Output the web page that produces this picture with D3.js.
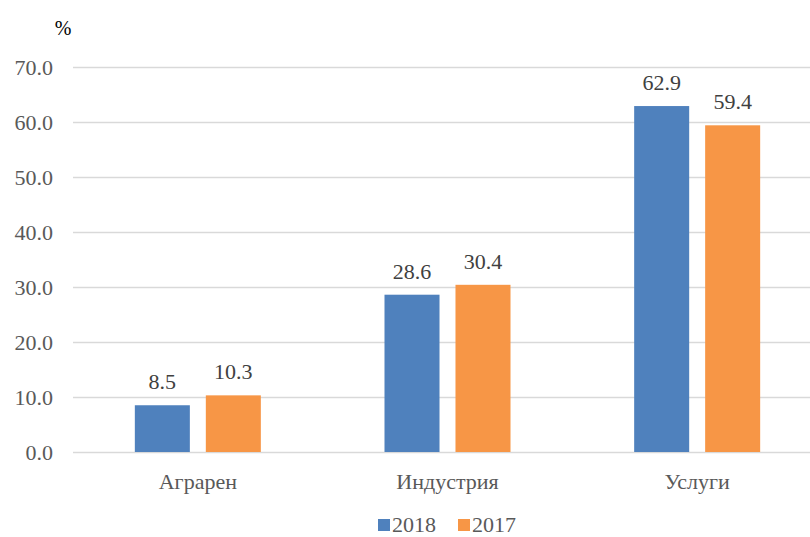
<!DOCTYPE html>
<html><head><meta charset="utf-8">
<script src="https://cdn.jsdelivr.net/npm/d3@7"></script>
<style>body{margin:0;background:#fff}svg{display:block}
svg text{font-family:"Liberation Serif","Times New Roman","DejaVu Serif",serif;}
</style>
</head><body>
<svg id="c" width="810" height="537"></svg>
<script>
const categories = ["Аграрен", "Индустрия", "Услуги"];
const seriesNames = ["2018", "2017"];
const values2018 = [8.5, 28.6, 62.9];
const values2017 = [10.3, 30.4, 59.4];
const yTicks = [0, 10, 20, 30, 40, 50, 60, 70];
const colors = ["#4F81BD", "#F79646"];
const seriesValues = [values2018, values2017];

const svg = d3.select("#c");
const plotLeft = 73, plotRight = 822, plotTop = 67, plotBottom = 452;

const y = d3.scaleLinear().domain([0, 70]).range([plotBottom, plotTop]);
const x0 = d3.scaleBand().domain(categories).range([plotLeft, plotRight]).padding(0);
const x1 = d3.scaleBand().domain(seriesNames).range([0, x0.bandwidth()]).paddingInner(0.225).paddingOuter(0.871);

// gridlines
svg.append("g").selectAll("line").data(yTicks).join("line")
  .attr("x1", plotLeft).attr("x2", plotRight)
  .attr("y1", d => y(d) + 0.5).attr("y2", d => y(d) + 0.5)
  .attr("stroke", "#d9d9d9").attr("stroke-width", 1.3);

// y tick labels
svg.append("g").selectAll("text").data(yTicks).join("text")
  .attr("x", 53).attr("y", d => y(d) + 8)
  .attr("text-anchor", "end")
  .attr("font-size", 22).attr("fill", "#595959")
  .text(d => d.toFixed(1));

// % label
svg.append("text").attr("x", 63).attr("y", 35).attr("text-anchor", "middle")
  .attr("font-size", 20).attr("fill", "#000").text("%");

// bars
const rows = categories.map((c, i) => seriesNames.map((s, j) => ({c, s, j, v: seriesValues[j][i]})));
const g = svg.append("g").selectAll("g").data(rows).join("g")
  .attr("transform", d => `translate(${x0(d[0].c)},0)`);
g.selectAll("rect").data(d => d).join("rect")
  .attr("x", d => x1(d.s)).attr("width", x1.bandwidth())
  .attr("y", d => y(d.v)).attr("height", d => y(0) - y(d.v))
  .attr("fill", d => colors[d.j]);
g.selectAll("text").data(d => d).join("text")
  .attr("x", d => x1(d.s) + x1.bandwidth() / 2).attr("y", d => y(d.v) - 16)
  .attr("text-anchor", "middle")
  .attr("font-size", 22).attr("fill", "#404040")
  .text(d => d.v.toFixed(1));

// category labels
svg.append("g").selectAll("text").data(categories).join("text")
  .attr("x", d => x0(d) + x0.bandwidth() / 2).attr("y", 489)
  .attr("text-anchor", "middle")
  .attr("font-size", 22).attr("fill", "#595959")
  .text(d => d);

// legend
const legX = [378, 458];
const lg = svg.append("g").selectAll("g").data(seriesNames).join("g")
  .attr("transform", (d, i) => `translate(${legX[i]},0)`);
lg.append("rect").attr("x", 0).attr("y", 519).attr("width", 12).attr("height", 12)
  .attr("fill", (d, i) => colors[i]);
lg.append("text").attr("x", 14).attr("y", 532)
  .attr("font-size", 22).attr("fill", "#595959")
  .text(d => d);
</script>
</body></html>
